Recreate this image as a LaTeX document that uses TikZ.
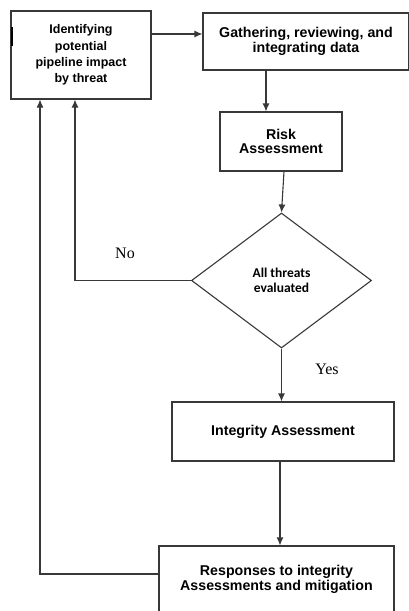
\documentclass[tikz,border=0pt]{standalone}
\usepackage{fontspec}
\setmainfont{Liberation Sans}
\newfontfamily\calfont{Carlito}
\newfontfamily\serfont{Liberation Serif}
\usepackage{tikz}
\usetikzlibrary{shapes.geometric,arrows.meta}
\tikzset{>={Latex[length=8pt,width=7pt]}}
\colorlet{linecol}{black!78}
\tikzstyle{box}=[draw=linecol,line width=1.1pt,rectangle,inner sep=0,align=center,
                 font=\bfseries\fontsize{14.2}{14.8}\selectfont]
\tikzstyle{decision}=[draw=linecol,line width=1.1pt,diamond,inner sep=0,align=center,
                      font=\calfont\bfseries\fontsize{13.5}{15}\selectfont]
\tikzstyle{flow}=[->,line width=1.1pt,linecol]
\tikzstyle{answer}=[inner sep=0,font=\serfont\fontsize{16}{16}\selectfont]

\begin{document}
\begin{tikzpicture}[x=1pt,y=-1pt]
  \useasboundingbox (0,0) rectangle (409,611);

  % BOXES
  \node[box,minimum width=140pt,minimum height=88pt,
        font=\bfseries\fontsize{12.5}{16.4}\selectfont] (ident) at (81,55)
    {\raisebox{-3pt}{Identifying}\\\raisebox{-3pt}{potential}\\
     \raisebox{-3pt}{pipeline impact}\\\raisebox{-3pt}{by threat}};
  \node[box,minimum width=206pt,minimum height=57pt] (gather) at (306,41.5)
    {Gathering, reviewing, and\\integrating data};
  \node[box,minimum width=122pt,minimum height=59pt] (risk) at (281,141.5)
    {Risk\\Assessment};
  \node[decision,minimum width=180pt,minimum height=135pt] (dec) at (281.5,280.5)
    {All threats\\evaluated};
  \node[box,minimum width=222pt,minimum height=59pt] (integ) at (283,431.5)
    {Integrity Assessment};
  \node[box,minimum width=235pt,minimum height=66pt] (resp) at (276.5,579)
    {Responses to integrity\\Assessments and mitigation};

  % LABELS
  \node[answer] (no) at (125,253) {No};
  \node[answer] (yes) at (327,369) {Yes};

  % ARROWS
  \draw[flow] (ident.east |- 0,34) -- (gather.west |- 0,34);
  \draw[flow] (gather.south -| 266,0) -- (risk.north -| 266,0);
  \draw[flow] (risk.south -| 284,0) -- (dec.north);
  \draw[flow] (dec.south) -- (dec.south |- integ.north);
  \draw[flow] (integ.south -| 280,0) -- (resp.north -| 280,0);

  % FEEDBACK
  \draw[flow] (dec.west) -| (ident.south -| 75,0);
  \draw[flow] (resp.west |- 0,574) -| (ident.south -| 40,0);

  % STRAY MARK
  \draw[line width=2pt] (12,27) -- (12,46);

\end{tikzpicture}
\end{document}
